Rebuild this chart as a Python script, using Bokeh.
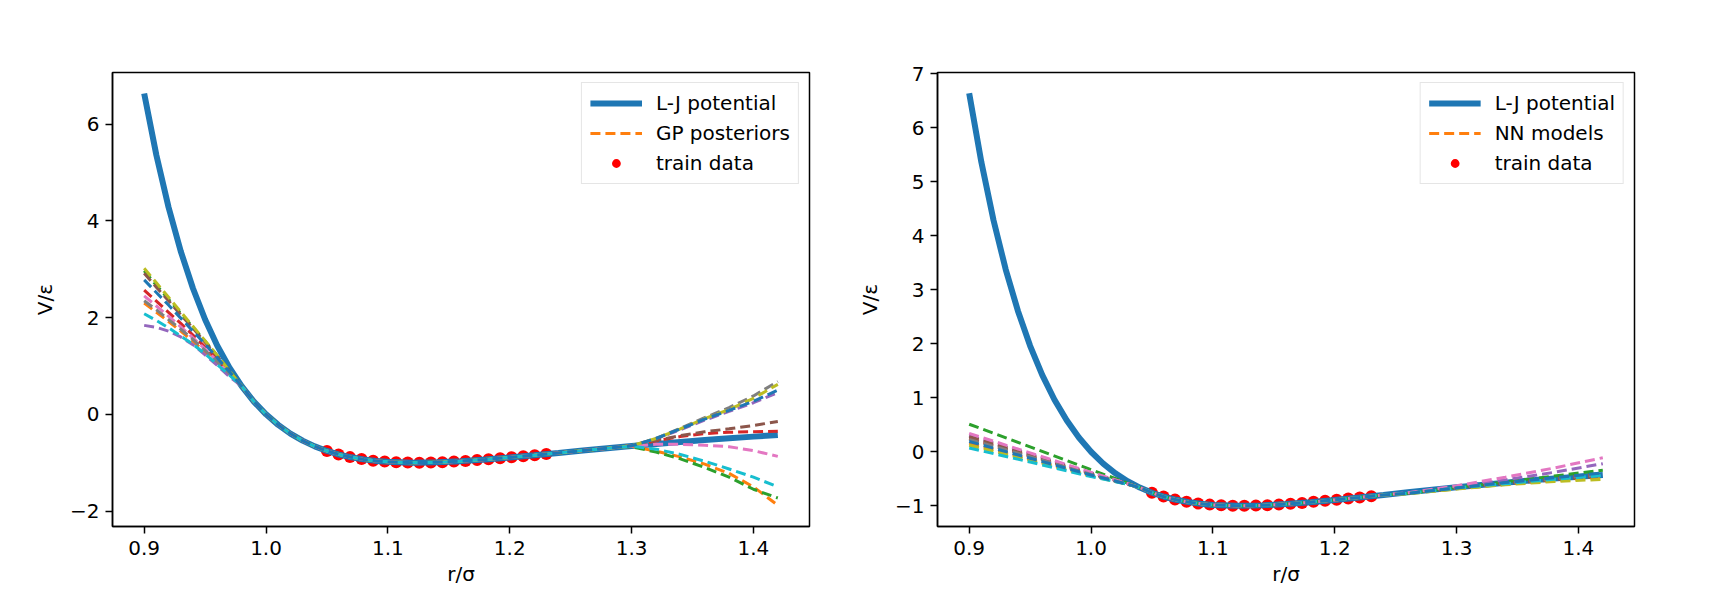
from bokeh.plotting import figure
from bokeh.models import Range1d, FixedTicker, CustomJSTickFormatter, Legend, LegendItem
from bokeh.layouts import row
from bokeh.embed import file_html
from bokeh.resources import INLINE

# ---------------- data ----------------
# Lennard-Jones curve
lj_r = [0.90, 0.91, 0.92, 0.93, 0.94, 0.95, 0.96, 0.97, 0.98, 0.99, 1.00,
        1.01, 1.02, 1.03, 1.04, 1.05, 1.06, 1.07, 1.08, 1.09, 1.10,
        1.12, 1.14, 1.16, 1.18, 1.20, 1.22, 1.24, 1.26, 1.28, 1.30,
        1.32, 1.34, 1.36, 1.38, 1.40, 1.42]
lj_v = [6.636, 5.360, 4.283, 3.373, 2.607, 1.961, 1.418, 0.963, 0.582, 0.264, 0.0,
        -0.218, -0.398, -0.544, -0.663, -0.758, -0.832, -0.889, -0.932, -0.963, -0.983,
        -1.000, -0.992, -0.968, -0.933, -0.891, -0.845, -0.798, -0.750, -0.703, -0.657,
        -0.613, -0.572, -0.532, -0.495, -0.461, -0.428]

# training points
train_r = [1.050, 1.0595, 1.0689, 1.0784, 1.0879, 1.0974, 1.1068, 1.1163, 1.1258, 1.1353,
           1.1447, 1.1542, 1.1637, 1.1732, 1.1826, 1.1921, 1.2016, 1.2111, 1.2205, 1.2300]
train_v = [-0.758, -0.829, -0.885, -0.926, -0.958, -0.978, -0.991, -0.998, -1.000, -0.995,
           -0.990, -0.976, -0.963, -0.946, -0.927, -0.908, -0.887, -0.866, -0.845, -0.822]

# sample curve colours (drawing order)
sample_colors = ["#ff7f0e", "#2ca02c", "#d62728", "#9467bd", "#8c564b",
                 "#e377c2", "#7f7f7f", "#bcbd22", "#17becf", "#1f77b4"]

# GP posterior samples: left part, shared middle part, right part
gp_r_left = [0.90, 0.91, 0.92, 0.93, 0.94, 0.95, 0.96, 0.97]
gp_r_mid = [0.98, 0.99, 1.00, 1.01, 1.02, 1.03, 1.04, 1.05, 1.06, 1.07, 1.08, 1.09, 1.10,
            1.12, 1.14, 1.16, 1.18, 1.20, 1.22, 1.24, 1.26, 1.28]
gp_v_mid = [0.582, 0.264, 0.0, -0.218, -0.398, -0.544, -0.663, -0.758, -0.832, -0.889,
            -0.932, -0.963, -0.983, -1.000, -0.992, -0.968, -0.933, -0.891, -0.845,
            -0.798, -0.750, -0.703]
gp_r_right = [1.30, 1.32, 1.34, 1.36, 1.38, 1.40, 1.42]

gp_left = {
    "orange": [2.30, 2.11, 1.92, 1.72, 1.51, 1.29, 1.07, 0.83],
    "green":  [2.97, 2.67, 2.38, 2.09, 1.80, 1.51, 1.21, 0.90],
    "red":    [2.57, 2.34, 2.11, 1.88, 1.64, 1.39, 1.13, 0.86],
    "purple": [1.84, 1.80, 1.72, 1.60, 1.44, 1.23, 1.01, 0.78],
    "brown":  [2.92, 2.63, 2.35, 2.06, 1.78, 1.49, 1.20, 0.89],
    "pink":   [2.45, 2.24, 2.03, 1.81, 1.58, 1.35, 1.10, 0.85],
    "gray":   [2.35, 2.16, 1.96, 1.76, 1.55, 1.32, 1.09, 0.84],
    "olive":  [3.02, 2.72, 2.42, 2.12, 1.82, 1.52, 1.22, 0.90],
    "cyan":   [2.08, 1.94, 1.79, 1.62, 1.45, 1.25, 1.03, 0.81],
    "blue":   [2.78, 2.52, 2.26, 1.99, 1.72, 1.45, 1.17, 0.88],
}
gp_right = {
    "orange": [-0.66, -0.76, -0.88, -1.03, -1.22, -1.50, -1.88],
    "green":  [-0.67, -0.78, -0.92, -1.10, -1.30, -1.55, -1.73],
    "red":    [-0.65, -0.55, -0.46, -0.40, -0.37, -0.36, -0.35],
    "purple": [-0.65, -0.51, -0.32, -0.12, 0.06, 0.24, 0.45],
    "brown":  [-0.65, -0.54, -0.44, -0.36, -0.30, -0.23, -0.15],
    "pink":   [-0.66, -0.62, -0.62, -0.64, -0.67, -0.75, -0.87],
    "gray":   [-0.65, -0.50, -0.29, -0.07, 0.14, 0.38, 0.68],
    "olive":  [-0.65, -0.50, -0.30, -0.09, 0.10, 0.33, 0.62],
    "cyan":   [-0.66, -0.72, -0.83, -0.97, -1.13, -1.30, -1.50],
    "blue":   [-0.65, -0.50, -0.30, -0.10, 0.08, 0.27, 0.50],
}

# NN model curves
nn_r_left = [0.90, 0.95, 1.00, 1.03]
nn_r_mid = [1.04, 1.05, 1.06, 1.07, 1.08, 1.09, 1.10, 1.12, 1.14, 1.16, 1.18, 1.20, 1.22, 1.24]
nn_v_mid = [-0.663, -0.758, -0.832, -0.889, -0.932, -0.963, -0.983, -1.000, -0.992,
            -0.968, -0.933, -0.891, -0.845, -0.798]
nn_r_right = [1.26, 1.30, 1.34, 1.38, 1.42]

nn_left = {
    "orange": [0.16, -0.14, -0.44, -0.60],
    "green":  [0.51, 0.09, -0.33, -0.58],
    "red":    [0.25, -0.08, -0.41, -0.60],
    "purple": [0.30, -0.04, -0.39, -0.59],
    "brown":  [0.28, -0.06, -0.40, -0.59],
    "pink":   [0.34, -0.02, -0.38, -0.59],
    "gray":   [0.23, -0.09, -0.42, -0.60],
    "olive":  [0.12, -0.16, -0.45, -0.60],
    "cyan":   [0.07, -0.19, -0.46, -0.60],
    "blue":   [0.19, -0.12, -0.43, -0.60],
}
nn_right = {
    "orange": [-0.77, -0.68, -0.60, -0.53, -0.47],
    "green":  [-0.77, -0.66, -0.56, -0.45, -0.34],
    "red":    [-0.77, -0.67, -0.58, -0.50, -0.41],
    "purple": [-0.76, -0.65, -0.52, -0.38, -0.22],
    "brown":  [-0.77, -0.67, -0.59, -0.52, -0.45],
    "pink":   [-0.76, -0.63, -0.47, -0.30, -0.11],
    "gray":   [-0.77, -0.67, -0.58, -0.50, -0.42],
    "olive":  [-0.78, -0.69, -0.61, -0.55, -0.51],
    "cyan":   [-0.77, -0.67, -0.59, -0.51, -0.44],
    "blue":   [-0.77, -0.67, -0.57, -0.48, -0.39],
}
sample_names = ["orange", "green", "red", "purple", "brown", "pink", "gray", "olive", "cyan", "blue"]

x_ticks = [0.9, 1.0, 1.1, 1.2, 1.3, 1.4]
y_ticks_left = [-2, 0, 2, 4, 6]
y_ticks_right = [-1, 0, 1, 2, 3, 4, 5, 6, 7]

FONT = "DejaVu Sans"
FS = "20px"


def make_panel(width, bl, br, yr, yticks, r_left, r_mid, v_mid, r_right, left_d, right_d, sample_label):
    p = figure(width=width, height=590, x_range=Range1d(0.874, 1.446), y_range=Range1d(*yr),
               output_backend="svg", toolbar_location=None,
               min_border_left=bl, min_border_right=br, min_border_top=72, min_border_bottom=64)
    p.background_fill_color = "white"
    p.border_fill_color = "white"
    p.outline_line_color = "black"
    p.outline_line_width = 1.5
    p.outline_line_alpha = 1.0
    p.xgrid.visible = False
    p.ygrid.visible = False

    dots = p.scatter(train_r, train_v, size=12, color="red", line_color=None)
    lj = p.line(lj_r, lj_v, line_width=6, color="#1f77b4")
    first = None
    for name, col in zip(sample_names, sample_colors):
        xs = r_left + r_mid + r_right
        ys = left_d[name] + v_mid + right_d[name]
        rr = p.line(xs, ys, line_width=3, color=col, line_dash="10 5")
        if first is None:
            first = rr

    p.xaxis.ticker = FixedTicker(ticks=x_ticks, minor_ticks=[])
    p.yaxis.ticker = FixedTicker(ticks=yticks, minor_ticks=[])
    p.xaxis.formatter = CustomJSTickFormatter(code="return tick.toFixed(1);")
    p.yaxis.formatter = CustomJSTickFormatter(
        code="return (tick < 0 ? '\u2212' : '') + Math.abs(tick).toFixed(0);")
    for ax in (p.xaxis, p.yaxis):
        ax.axis_line_width = 1.5
        ax.axis_line_color = "black"
        ax.major_tick_line_width = 1.5
        ax.major_tick_line_color = "black"
        ax.major_tick_out = 7
        ax.major_tick_in = 0
        ax.minor_tick_out = 0
        ax.minor_tick_in = 0
        ax.major_label_text_font = FONT
        ax.major_label_text_font_size = FS
        ax.major_label_text_color = "black"
        ax.axis_label_text_font = FONT
        ax.axis_label_text_font_size = FS
        ax.axis_label_text_font_style = "normal"
        ax.axis_label_text_color = "black"
    p.xaxis.major_label_standoff = 7
    p.xaxis.axis_label_standoff = 4
    p.yaxis.major_label_standoff = 6
    p.yaxis.axis_label_standoff = 10
    p.xaxis.axis_label = "r/σ"
    p.yaxis.axis_label = "V/ε"

    legend = Legend(items=[
        LegendItem(label="L-J potential", renderers=[lj]),
        LegendItem(label=sample_label, renderers=[first]),
        LegendItem(label="train data", renderers=[dots]),
    ], location="top_right")
    legend.label_text_font = FONT
    legend.label_text_font_size = FS
    legend.label_text_color = "black"
    legend.glyph_width = 52
    legend.glyph_height = 22
    legend.label_height = 22
    legend.spacing = 6
    legend.padding = 8
    legend.margin = 10
    legend.label_standoff = 14
    legend.border_line_color = "#cccccc"
    legend.border_line_width = 1.5
    legend.background_fill_color = "white"
    legend.background_fill_alpha = 0.8
    p.add_layout(legend)
    return p


p1 = make_panel(848, 112, 39, (-2.32, 7.07), y_ticks_left,
                gp_r_left, gp_r_mid, gp_v_mid, gp_r_right, gp_left, gp_right, "GP posteriors")
p2 = make_panel(866, 89, 80, (-1.383, 7.02), y_ticks_right,
                nn_r_left, nn_r_mid, nn_v_mid, nn_r_right, nn_left, nn_right, "NN models")

layout = row(p1, p2)
open("out.html", "w").write(file_html(layout, INLINE))
